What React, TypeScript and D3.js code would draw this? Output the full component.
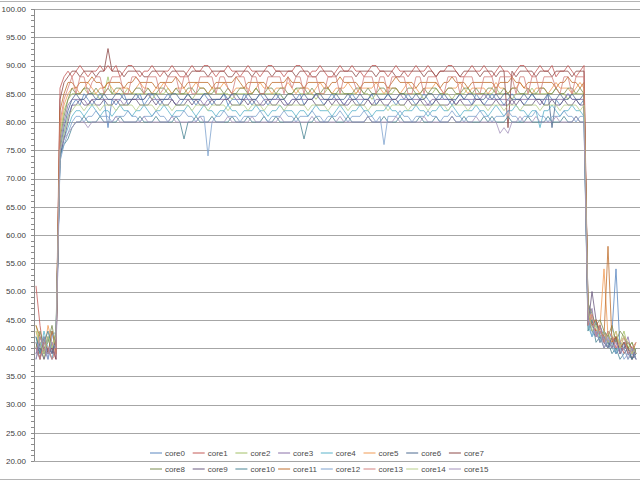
import React from 'react';
import * as d3 from 'd3';

// core temperatures, one sample every step: idle (6) / load (132) / idle (13)
const core0 = [
  40, 38, 41, 39, 43, 39,
  73, 78, 81, 83, 84, 83, 85, 84, 83, 84, 85, 84,
  79, 84, 83, 84, 85, 83, 84, 84, 85, 83, 84, 85,
  84, 83, 84, 85, 84, 83, 83, 84, 85, 84, 83, 84,
  85, 84, 83, 84, 84, 85, 83, 84, 84, 83, 85, 84,
  83, 84, 85, 84, 83, 84, 84, 85, 84, 83, 84, 84,
  85, 83, 84, 84, 85, 84, 83, 84, 85, 84, 84, 83,
  84, 85, 84, 83, 84, 84, 85, 83, 84, 84, 85, 84,
  83, 84, 84, 85, 84, 83, 84, 85, 84, 83, 84, 85,
  84, 84, 83, 84, 85, 84, 84, 83, 85, 84, 83, 84,
  85, 84, 84, 83, 84, 85, 84, 84, 83, 84, 85, 84,
  84, 83, 85, 84, 84, 83, 84, 85, 84, 84, 83, 84,
  48, 45, 43, 44, 42, 41, 43, 54, 40, 41, 39, 40, 38,
];
const core1 = [
  51, 44, 39, 40, 38, 40,
  86, 88, 89, 88, 89, 90, 89, 88, 89, 89, 90, 89,
  90, 89, 90, 88, 89, 90, 90, 89, 88, 89, 89, 90,
  89, 88, 89, 89, 90, 89, 88, 88, 89, 90, 89, 89,
  90, 90, 89, 88, 89, 89, 90, 89, 89, 88, 89, 90,
  89, 89, 88, 89, 90, 90, 89, 89, 88, 89, 89, 90,
  90, 89, 88, 89, 89, 90, 89, 88, 88, 89, 90, 89,
  89, 90, 89, 89, 88, 89, 90, 90, 89, 89, 88, 89,
  90, 89, 89, 88, 89, 90, 89, 89, 90, 89, 88, 89,
  89, 90, 90, 89, 88, 88, 89, 90, 89, 89, 90, 89,
  88, 89, 90, 89, 89, 88, 89, 90, 90, 89, 88, 89,
  90, 89, 89, 90, 88, 89, 89, 90, 89, 88, 89, 90,
  47, 44, 45, 42, 43, 41, 42, 40, 41, 39, 40, 38, 40,
];
const core2 = [
  44, 41, 38, 42, 40, 43,
  78, 82, 84, 85, 85, 85, 86, 85, 85, 85, 84, 85,
  88, 85, 85, 85, 85, 86, 85, 85, 85, 85, 85, 84,
  85, 85, 85, 86, 85, 85, 85, 85, 85, 84, 85, 85,
  85, 85, 86, 85, 85, 85, 85, 84, 85, 85, 85, 85,
  85, 86, 85, 85, 85, 85, 85, 85, 84, 85, 85, 86,
  85, 85, 85, 85, 84, 85, 85, 86, 85, 85, 85, 85,
  85, 85, 85, 86, 85, 85, 84, 85, 85, 85, 85, 85,
  86, 85, 85, 85, 85, 85, 85, 84, 85, 85, 86, 85,
  85, 85, 84, 85, 85, 85, 86, 85, 85, 85, 85, 85,
  85, 86, 85, 85, 85, 84, 85, 85, 85, 85, 86, 85,
  85, 85, 85, 85, 86, 85, 85, 84, 85, 85, 85, 85,
  46, 43, 44, 42, 41, 43, 40, 42, 41, 43, 40, 41, 39,
];
const core3 = [
  39, 42, 40, 38, 41, 38,
  76, 80, 83, 84, 84, 84, 84, 83, 84, 84, 84, 84,
  84, 84, 84, 84, 83, 84, 84, 84, 84, 84, 85, 84,
  84, 84, 84, 84, 84, 83, 84, 84, 84, 84, 84, 84,
  83, 84, 84, 84, 84, 84, 84, 85, 84, 84, 84, 84,
  84, 84, 83, 84, 84, 84, 84, 84, 84, 83, 84, 84,
  84, 84, 84, 84, 85, 84, 84, 84, 84, 84, 84, 83,
  84, 84, 84, 84, 84, 84, 83, 84, 84, 84, 84, 84,
  84, 85, 84, 84, 84, 84, 84, 84, 83, 84, 84, 84,
  84, 84, 84, 83, 84, 84, 84, 84, 84, 84, 85, 84,
  84, 84, 84, 84, 84, 83, 84, 84, 84, 84, 84, 84,
  83, 84, 84, 84, 84, 84, 84, 85, 84, 84, 84, 84,
  45, 47, 42, 43, 41, 40, 42, 41, 39, 40, 42, 39, 38,
];
const core4 = [
  42, 39, 43, 40, 38, 42,
  74, 77, 79, 81, 82, 82, 81, 82, 83, 82, 81, 82,
  82, 81, 82, 83, 82, 82, 81, 82, 82, 83, 82, 81,
  82, 82, 83, 82, 81, 82, 82, 82, 83, 82, 81, 82,
  83, 82, 82, 81, 82, 82, 83, 82, 82, 81, 82, 82,
  82, 83, 82, 82, 81, 82, 82, 83, 82, 82, 82, 81,
  82, 82, 81, 82, 83, 82, 82, 82, 81, 82, 83, 82,
  81, 82, 82, 83, 82, 82, 81, 82, 82, 82, 83, 82,
  82, 81, 82, 82, 82, 83, 82, 82, 81, 82, 82, 83,
  82, 82, 83, 82, 81, 82, 82, 82, 83, 82, 82, 81,
  82, 83, 82, 81, 82, 82, 83, 82, 82, 81, 82, 82,
  79, 82, 82, 83, 82, 81, 82, 82, 83, 82, 82, 81,
  44, 42, 45, 41, 43, 42, 40, 39, 41, 40, 38, 39, 40,
];
const core5 = [
  43, 40, 39, 44, 41, 39,
  79, 83, 85, 86, 86, 85, 86, 87, 86, 85, 86, 86,
  87, 86, 85, 86, 86, 86, 85, 86, 87, 86, 86, 85,
  86, 86, 87, 86, 85, 86, 86, 86, 85, 86, 87, 86,
  86, 85, 86, 86, 86, 87, 86, 85, 86, 86, 86, 86,
  85, 86, 87, 86, 86, 85, 86, 86, 86, 87, 86, 85,
  86, 86, 86, 85, 86, 87, 86, 86, 85, 86, 86, 86,
  87, 86, 85, 86, 86, 86, 86, 87, 86, 85, 86, 86,
  86, 85, 86, 87, 86, 86, 85, 86, 86, 86, 87, 86,
  85, 86, 86, 86, 87, 86, 85, 86, 86, 86, 86, 85,
  86, 87, 86, 86, 85, 86, 86, 87, 86, 86, 85, 86,
  86, 86, 85, 86, 87, 86, 86, 86, 85, 86, 87, 86,
  47, 45, 43, 44, 54, 42, 41, 43, 40, 42, 41, 40, 39,
];
const core6 = [
  38, 41, 39, 42, 39, 41,
  75, 79, 82, 84, 85, 84, 84, 85, 85, 84, 84, 85,
  84, 84, 85, 85, 84, 84, 84, 85, 84, 84, 85, 85,
  85, 84, 84, 84, 85, 85, 84, 84, 85, 84, 84, 84,
  85, 85, 84, 84, 84, 85, 84, 85, 85, 84, 84, 85,
  84, 84, 85, 85, 84, 84, 85, 84, 84, 85, 85, 84,
  84, 85, 84, 84, 85, 85, 84, 84, 84, 85, 84, 84,
  85, 84, 84, 85, 84, 84, 85, 85, 84, 84, 85, 84,
  84, 85, 85, 84, 84, 85, 84, 84, 85, 85, 84, 84,
  85, 84, 84, 84, 85, 84, 85, 85, 84, 84, 84, 85,
  84, 85, 84, 85, 85, 84, 84, 84, 85, 84, 85, 84,
  84, 84, 85, 79, 84, 85, 84, 84, 85, 84, 84, 85,
  45, 43, 42, 44, 41, 40, 42, 39, 40, 41, 39, 38, 40,
];
const core7 = [
  41, 38, 42, 39, 40, 38,
  84, 87, 88, 89, 89, 88, 89, 89, 89, 88, 89, 89,
  93, 89, 89, 89, 88, 89, 89, 89, 89, 88, 88, 89,
  89, 89, 89, 88, 89, 89, 89, 89, 88, 89, 89, 89,
  89, 88, 89, 89, 89, 89, 88, 88, 89, 89, 89, 89,
  88, 89, 89, 89, 89, 88, 89, 89, 89, 89, 89, 88,
  89, 89, 89, 88, 88, 89, 89, 89, 89, 88, 89, 89,
  89, 89, 88, 89, 89, 89, 89, 88, 89, 89, 89, 89,
  88, 88, 89, 89, 89, 89, 89, 88, 89, 89, 88, 89,
  89, 89, 89, 89, 88, 89, 89, 89, 89, 88, 89, 89,
  89, 88, 89, 89, 79, 89, 88, 89, 89, 89, 89, 88,
  89, 89, 89, 88, 89, 89, 89, 89, 88, 89, 89, 89,
  46, 44, 43, 41, 42, 40, 41, 42, 39, 40, 41, 40, 38,
];
const core8 = [
  40, 43, 40, 41, 44, 40,
  77, 81, 84, 86, 85, 85, 86, 86, 85, 86, 85, 85,
  86, 85, 86, 86, 85, 85, 85, 86, 86, 85, 86, 85,
  85, 86, 86, 85, 85, 86, 85, 85, 86, 86, 85, 86,
  86, 85, 85, 86, 86, 85, 86, 85, 85, 86, 86, 85,
  85, 86, 85, 85, 86, 86, 85, 86, 86, 85, 85, 86,
  86, 86, 85, 86, 85, 85, 86, 86, 85, 85, 86, 85,
  85, 85, 86, 86, 85, 86, 85, 85, 86, 86, 85, 86,
  86, 85, 85, 86, 86, 85, 85, 86, 85, 86, 86, 85,
  85, 86, 86, 85, 85, 86, 86, 85, 86, 85, 85, 86,
  86, 85, 85, 86, 85, 86, 86, 85, 85, 86, 85, 85,
  86, 86, 85, 85, 86, 85, 85, 86, 86, 85, 86, 85,
  48, 46, 44, 45, 43, 42, 44, 41, 43, 42, 40, 41, 39,
];
const core9 = [
  39, 40, 38, 40, 39, 42,
  74, 77, 80, 83, 83, 84, 83, 83, 84, 83, 83, 84,
  83, 83, 84, 83, 83, 83, 84, 84, 83, 83, 83, 84,
  83, 84, 83, 83, 84, 83, 83, 83, 84, 83, 84, 83,
  83, 83, 84, 83, 83, 84, 84, 83, 83, 83, 84, 83,
  84, 83, 83, 83, 84, 83, 83, 84, 83, 83, 83, 84,
  83, 83, 84, 84, 83, 83, 83, 84, 83, 84, 83, 83,
  83, 84, 83, 83, 83, 84, 83, 83, 84, 83, 83, 84,
  84, 83, 83, 84, 83, 83, 84, 83, 83, 83, 84, 83,
  83, 83, 84, 83, 84, 83, 83, 83, 84, 84, 83, 83,
  83, 84, 83, 83, 83, 84, 83, 84, 83, 83, 83, 84,
  84, 83, 83, 84, 83, 83, 84, 83, 83, 84, 83, 83,
  44, 50, 45, 42, 43, 41, 40, 42, 39, 41, 40, 38, 39,
];
const core10 = [
  42, 39, 41, 43, 40, 41,
  74, 76, 77, 79, 80, 80, 81, 80, 80, 80, 81, 80,
  80, 80, 80, 81, 80, 80, 80, 80, 81, 80, 80, 80,
  81, 80, 80, 80, 80, 81, 80, 77, 80, 80, 81, 80,
  80, 80, 81, 80, 80, 80, 80, 81, 80, 80, 80, 81,
  80, 80, 80, 81, 80, 80, 81, 80, 80, 80, 80, 81,
  80, 77, 80, 80, 81, 80, 80, 80, 81, 80, 80, 80,
  81, 80, 80, 80, 80, 81, 80, 80, 80, 81, 80, 80,
  80, 81, 80, 80, 80, 80, 81, 80, 80, 80, 81, 80,
  80, 80, 81, 80, 80, 81, 80, 80, 80, 80, 81, 80,
  81, 80, 80, 80, 81, 80, 80, 80, 80, 81, 80, 80,
  80, 80, 81, 80, 80, 80, 81, 80, 80, 81, 80, 80,
  43, 45, 41, 42, 40, 41, 39, 40, 38, 39, 40, 38, 39,
];
const core11 = [
  44, 42, 40, 39, 43, 40,
  82, 85, 87, 87, 86, 87, 87, 87, 88, 87, 87, 86,
  87, 87, 87, 87, 86, 87, 87, 88, 87, 87, 87, 87,
  86, 87, 87, 87, 87, 88, 87, 86, 87, 87, 87, 87,
  87, 87, 86, 87, 87, 87, 87, 87, 88, 87, 86, 87,
  87, 87, 87, 87, 86, 87, 87, 87, 87, 88, 87, 87,
  87, 86, 87, 87, 87, 87, 87, 86, 87, 87, 88, 87,
  87, 87, 87, 86, 87, 87, 87, 87, 87, 87, 86, 87,
  88, 87, 87, 87, 87, 86, 87, 87, 87, 87, 87, 86,
  87, 87, 88, 87, 87, 87, 86, 87, 87, 87, 87, 87,
  87, 86, 87, 87, 87, 88, 87, 87, 86, 87, 87, 87,
  87, 87, 87, 87, 86, 87, 87, 88, 87, 87, 86, 87,
  46, 44, 45, 43, 42, 58, 41, 42, 40, 41, 40, 39, 41,
];
const core12 = [
  41, 40, 42, 38, 42, 43,
  73, 76, 78, 80, 81, 81, 80, 81, 81, 82, 81, 81,
  81, 80, 81, 81, 81, 82, 81, 81, 80, 81, 81, 81,
  82, 81, 81, 80, 81, 81, 81, 82, 81, 81, 80, 81,
  81, 74, 80, 81, 81, 82, 81, 81, 81, 80, 81, 81,
  81, 81, 82, 81, 80, 81, 81, 81, 82, 81, 81, 80,
  81, 81, 81, 82, 81, 81, 80, 81, 81, 81, 82, 81,
  80, 81, 81, 81, 82, 81, 81, 80, 81, 76, 81, 81,
  81, 82, 81, 81, 80, 81, 81, 81, 82, 81, 81, 80,
  81, 81, 82, 81, 81, 80, 81, 81, 81, 82, 81, 81,
  80, 81, 81, 81, 82, 81, 81, 80, 81, 81, 81, 82,
  81, 81, 80, 81, 81, 81, 82, 81, 81, 80, 81, 81,
  45, 42, 43, 41, 42, 40, 41, 39, 40, 38, 39, 40, 38,
];
const core13 = [
  40, 38, 41, 40, 38, 39,
  80, 84, 86, 88, 85, 88, 88, 85, 87, 88, 88, 85,
  86, 88, 88, 88, 85, 85, 88, 88, 87, 85, 88, 88,
  88, 85, 86, 88, 88, 88, 85, 88, 88, 85, 85, 88,
  88, 88, 88, 85, 88, 88, 86, 85, 88, 88, 88, 85,
  88, 88, 85, 85, 88, 88, 88, 88, 85, 88, 86, 88,
  88, 85, 88, 88, 88, 85, 85, 88, 88, 88, 85, 88,
  88, 88, 86, 85, 88, 88, 88, 85, 88, 88, 85, 88,
  88, 88, 88, 85, 85, 88, 88, 85, 88, 88, 88, 86,
  85, 88, 88, 88, 85, 88, 88, 88, 85, 85, 88, 88,
  88, 85, 88, 88, 88, 88, 85, 88, 88, 85, 88, 88,
  85, 88, 88, 88, 86, 85, 88, 88, 85, 88, 88, 88,
  44, 46, 42, 44, 41, 43, 42, 40, 41, 42, 39, 40, 41,
];
const core14 = [
  43, 41, 39, 42, 40, 42,
  75, 78, 81, 82, 83, 83, 82, 83, 83, 83, 82, 83,
  83, 83, 82, 83, 83, 83, 83, 82, 83, 83, 83, 83,
  82, 83, 83, 83, 82, 83, 83, 83, 83, 82, 83, 83,
  83, 82, 83, 83, 83, 83, 82, 83, 83, 83, 83, 82,
  83, 83, 83, 82, 83, 83, 83, 83, 82, 83, 83, 83,
  83, 83, 82, 83, 83, 83, 83, 82, 83, 83, 83, 83,
  82, 83, 83, 83, 83, 82, 83, 83, 83, 83, 82, 83,
  83, 83, 83, 82, 83, 83, 83, 83, 82, 83, 83, 83,
  83, 82, 83, 83, 83, 83, 82, 83, 83, 83, 83, 82,
  83, 83, 83, 82, 83, 83, 83, 82, 83, 83, 83, 83,
  82, 83, 83, 83, 83, 82, 83, 83, 83, 83, 82, 83,
  47, 43, 44, 42, 43, 41, 42, 43, 40, 42, 41, 39, 40,
];
const core15 = [
  38, 42, 40, 39, 41, 40,
  75, 77, 78, 79, 80, 80, 80, 79, 80, 80, 80, 80,
  80, 80, 81, 80, 80, 80, 80, 80, 80, 81, 80, 80,
  80, 80, 80, 80, 81, 80, 80, 80, 80, 80, 80, 81,
  80, 80, 80, 80, 80, 80, 81, 80, 80, 80, 80, 80,
  81, 80, 80, 80, 80, 80, 80, 81, 80, 80, 80, 80,
  80, 80, 80, 81, 80, 80, 80, 80, 80, 80, 81, 80,
  80, 80, 80, 80, 80, 81, 80, 80, 80, 80, 80, 80,
  81, 80, 80, 80, 80, 80, 80, 81, 80, 80, 80, 80,
  80, 80, 81, 80, 80, 80, 80, 80, 81, 80, 80, 80,
  80, 80, 78, 79, 78, 80, 80, 81, 80, 80, 80, 81,
  80, 80, 80, 80, 81, 80, 80, 80, 80, 81, 80, 80,
  45, 44, 42, 43, 40, 42, 40, 41, 39, 40, 38, 40, 39,
];

const seriesNames = [
  'core0', 'core1', 'core2', 'core3', 'core4', 'core5', 'core6', 'core7',
  'core8', 'core9', 'core10', 'core11', 'core12', 'core13', 'core14', 'core15',
];
const seriesValues = [
  core0, core1, core2, core3, core4, core5, core6, core7,
  core8, core9, core10, core11, core12, core13, core14, core15,
];
const yTicks = [20, 25, 30, 35, 40, 45, 50, 55, 60, 65, 70, 75, 80, 85, 90, 95, 100];

// office 2007 style series colours, a touch washed out like the jpeg
const colors = [
  '#5A87C0', '#C45A57', '#A2C066', '#8A70A8', '#5AB3CA', '#F19B55', '#4D6A90', '#8E4A48',
  '#7A8C50', '#6A5A80', '#4A8494', '#C07030', '#7EA2CE', '#D38280', '#B8CF8A', '#A492BC',
];

const W = 640;
const H = 481;
const font = '"Liberation Sans", Arial, sans-serif';

export default function App() {
  const plotLeft = 34;
  const nPts = core0.length;

  const x = d3.scaleLinear().domain([0, nPts - 1]).range([36, 636]);
  const y = d3.scaleLinear().domain([20, 100]).range([461, 9]);

  const line = d3.line<number>()
    .x((_, i) => x(i))
    .y(d => y(d));

  const minorTicks = d3.range(20, 100.5, 1);
  const fmt = d3.format('.2f');

  return (
    <svg
      width={W}
      height={H}
      style={{ position: 'absolute', left: 0, top: 0, display: 'block', background: '#fff' }}
    >
      {/* chart border */}
      <line x1={0} x2={W} y1={1.5} y2={1.5} stroke="#b4b4b4" />
      <line x1={0} x2={W} y1={479.5} y2={479.5} stroke="#b4b4b4" />

      {/* gridlines */}
      {yTicks.map(t => (
        <line key={t} x1={plotLeft} x2={W} y1={Math.round(y(t)) + 0.5} y2={Math.round(y(t)) + 0.5}
          stroke="#a6a6a6" strokeWidth={1} />
      ))}

      {/* y axis */}
      <line x1={plotLeft + 0.5} x2={plotLeft + 0.5} y1={y(100)} y2={y(20)} stroke="#8c8c8c" />
      {minorTicks.map(t => (
        <line key={'m' + t} x1={plotLeft - 3} x2={plotLeft} y1={Math.round(y(t)) + 0.5} y2={Math.round(y(t)) + 0.5}
          stroke="#8c8c8c" />
      ))}
      {yTicks.map(t => (
        <text key={'l' + t} x={26} y={y(t)} dy="0.35em" textAnchor="end"
          fontFamily={font} fontSize={8} fill="#404040">
          {fmt(t)}
        </text>
      ))}

      {/* series */}
      {seriesValues.map((vals, i) => (
        <path key={seriesNames[i]} d={line(vals) || ''} fill="none"
          stroke={colors[i]} strokeWidth={1} strokeOpacity={0.8} strokeLinejoin="round" />
      ))}

      {/* legend */}
      {seriesNames.map((name, i) => {
        const row = Math.floor(i / 8);
        const col = i % 8;
        const lx = 150 + col * 42.7;
        const ly = 453 + row * 16;
        return (
          <g key={'lg' + name}>
            <line x1={lx} x2={lx + 12} y1={ly} y2={ly} stroke={colors[i]} strokeWidth={1} />
            <text x={lx + 15} y={ly} dy="0.35em" fontFamily={font} fontSize={8} fill="#4a4a4a">
              {name}
            </text>
          </g>
        );
      })}
    </svg>
  );
}
